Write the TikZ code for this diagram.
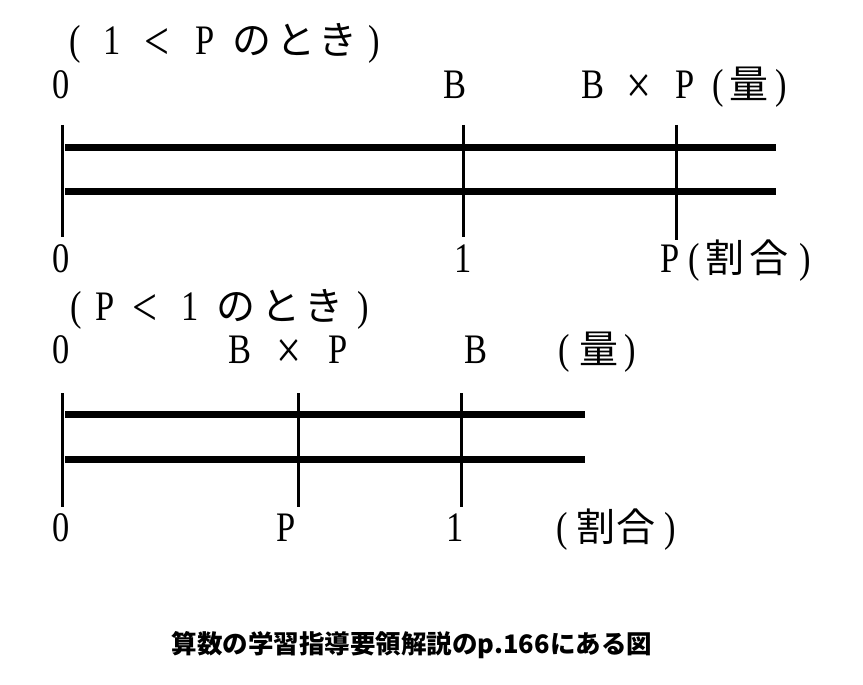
\documentclass[tikz,border=0pt]{standalone}
\usepackage{fontspec}
\setmainfont{Liberation Serif}
\newfontfamily\lat[FakeStretch=0.82]{Liberation Serif}
\newfontfamily\cjk{Noto Sans CJK JP}
\newcommand{\bx}[2]{\makebox[#1pt][c]{#2}}
\newcommand{\jp}[1]{{\cjk\fontsize{39}{42}\selectfont #1}}
\newcommand{\lt}{\raisebox{-5pt}{\fontsize{54}{54}\selectfont <}}
\newcommand{\tm}{\raisebox{-5pt}{\fontsize{54}{54}\selectfont ×}}
\begin{document}
\begin{tikzpicture}[x=1pt,y=-1pt,
  lab/.style={inner sep=0pt, anchor=base west, font=\lat\fontsize{42}{46}\selectfont},
  num/.style={inner sep=0pt, anchor=base, font=\lat\fontsize{42}{46}\selectfont},
  bar/.style={line width=7pt},
  tick/.style={line width=3pt}]
\useasboundingbox (0,0) rectangle (863,685);
\fill[white] (0,0) rectangle (863,685);

% ---------- 1 < P ----------
\node[lab] (t1) at (58,55) {\bx{33.5}{(}\bx{41}{1}\bx{48}{\lt}\bx{48.5}{P}\bx{45}{\jp{の}}\bx{44}{\jp{と}}\bx{39.5}{\jp{き}}\bx{32.5}{)}};
\node[num] (a0) at (61,99) {0};
\node[num] (aB) at (455,99) {B};
\node[lab] (aBP) at (570,99) {\bx{46}{B}\bx{46}{\tm}\bx{46}{P}\bx{20}{(}\bx{42}{\jp{量}}\bx{22}{)}};
\node[num] (c0) at (61,272) {0};
\node[num] (c1) at (463,272) {1};
\node[lab] (cP) at (655,272) {\bx{30}{P}\bx{18}{(}\bx{44}{\jp{割}}\bx{44}{\jp{合}}\bx{28}{)}};

\coordinate (h1a) at (65,147);  \coordinate (h1b) at (776,147);
\coordinate (h2a) at (65,191);  \coordinate (h2b) at (776,191);
\coordinate (v1t) at (62,125);  \coordinate (v1b) at (62,237);
\coordinate (v2t) at (463,125); \coordinate (v2b) at (463,237);
\coordinate (v3t) at (676,125); \coordinate (v3b) at (676,240);
\draw[bar] (h1a) -- (h1b);
\draw[bar] (h2a) -- (h2b);
\draw[tick] (v1t) -- (v1b);
\draw[tick] (v2t) -- (v2b);
\draw[tick] (v3t) -- (v3b);

% ---------- P < 1 ----------
\node[lab] (t2) at (65,320) {\bx{23}{(}\bx{34.5}{P}\bx{44.5}{\lt}\bx{45.5}{1}\bx{46.5}{\jp{の}}\bx{43.5}{\jp{と}}\bx{43}{\jp{き}}\bx{34.5}{)}};
\node[num] (d0) at (61,363) {0};
\node[lab] (dBP) at (215.5,363) {\bx{49}{B}\bx{49}{\tm}\bx{49}{P}};
\node[num] (dB) at (476,363) {B};
\node[lab] (dQ) at (549,363) {\bx{30}{(}\bx{40}{\jp{量}}\bx{22}{)}};
\node[num] (e0) at (61,541) {0};
\node[num] (eP) at (286,541) {P};
\node[num] (e1) at (455,541) {1};
\node[lab] (eR) at (547,541) {\bx{30}{(}\bx{38}{\jp{割}}\bx{42}{\jp{合}}\bx{26}{)}};

\coordinate (g1a) at (65,414);  \coordinate (g1b) at (585,414);
\coordinate (g2a) at (65,459);  \coordinate (g2b) at (585,459);
\coordinate (w1t) at (62,393);  \coordinate (w1b) at (62,507);
\coordinate (w2t) at (298,393); \coordinate (w2b) at (298,507);
\coordinate (w3t) at (461,393); \coordinate (w3b) at (461,507);
\draw[bar] (g1a) -- (g1b);
\draw[bar] (g2a) -- (g2b);
\draw[tick] (w1t) -- (w1b);
\draw[tick] (w2t) -- (w2b);
\draw[tick] (w3t) -- (w3b);

% ---------- caption ----------
\node[inner sep=0pt, font=\cjk\bfseries\fontsize{25.5}{30}\selectfont] (cap) at (412,645) {算数の学習指導要領解説のp.166にある図};
\end{tikzpicture}
\end{document}
